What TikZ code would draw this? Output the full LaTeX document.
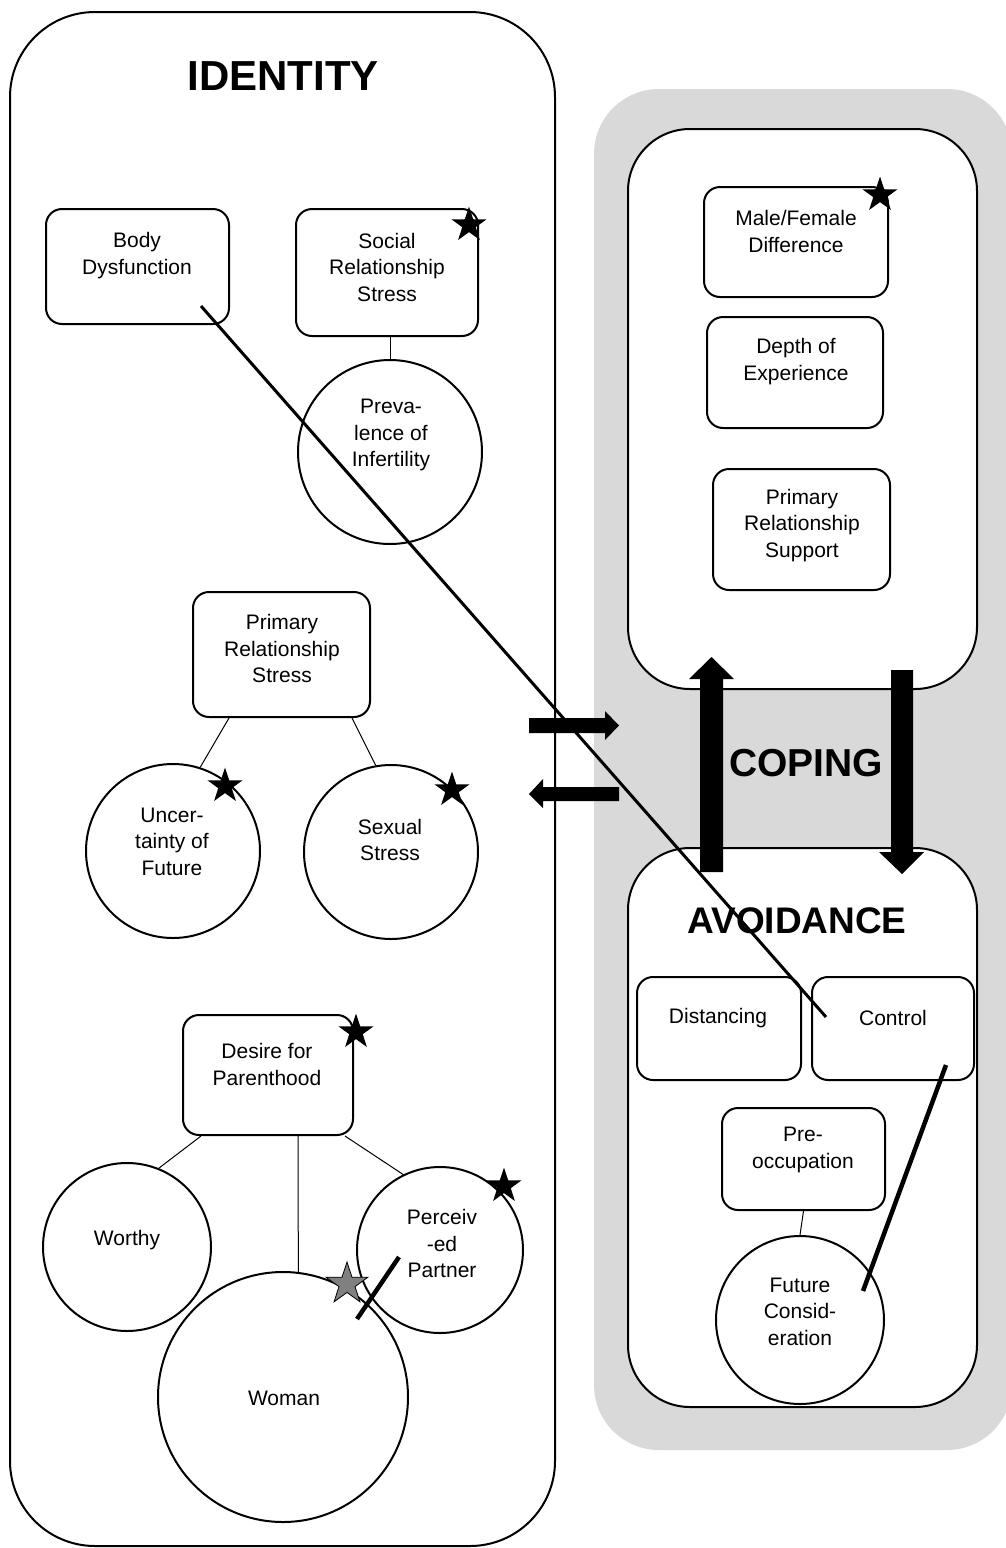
\documentclass[tikz,border=0pt]{standalone}
\usepackage{fontspec}
\setmainfont{Liberation Sans}
\usetikzlibrary{shapes.geometric,calc}
\definecolor{copinggray}{HTML}{D9D9D9}
\definecolor{stargray}{HTML}{808080}
\tikzset{
  frame/.style={draw=black, line width=2pt},
  rbox/.style={draw=black, line width=2pt, rounded corners=16pt, fill=white, rectangle, inner sep=0pt},
  circ/.style={draw=black, line width=2pt, circle, inner sep=0pt},
  txt/.style={font=\fontsize{21}{26.5}\selectfont, align=center, inner sep=0pt},
  title/.style={font=\bfseries\fontsize{#1}{#1}\selectfont, inner sep=0pt},
  link/.style={draw=black, line width=1pt},
  heavy/.style={draw=black, line width=#1},
  blkstar/.style={star, star points=5, star point ratio=2.6, fill=black, draw=none, minimum size=37pt, inner sep=0pt},
  graystar/.style={star, star points=5, star point ratio=2.6, fill=stargray, draw=black, line width=0.8pt, minimum size=44pt, inner sep=0pt},
  blockarrow/.style={fill=black}
}
\begin{document}
\begin{tikzpicture}[x=1pt,y=-1pt]
\useasboundingbox (0,0) rectangle (1006,1548);
\clip (0,0) rectangle (1006,1548);

% backgrounds and frames
\fill[copinggray, rounded corners=65pt] (594,89) rectangle (1012,1450);
\draw[frame, rounded corners=85pt] (10,12) rectangle (555,1546);
\draw[frame, fill=white, rounded corners=62pt] (628,129) rectangle (977,689);
\draw[frame, fill=white, rounded corners=62pt] (628,848) rectangle (977,1407);

% titles
\node[title=42] (identityT) at (283,76) {IDENTITY};
\node[title=39] (copingT) at (806,763) {COPING};
\node[title=37] (avoidT) at (797,921) {AVOIDANCE};

% boxes
\node[rbox, minimum width=183pt, minimum height=115pt] (body) at (137.5,266.5) {};
\node[rbox, minimum width=182pt, minimum height=127pt] (social) at (387,272.5) {};
\node[rbox, minimum width=184pt, minimum height=110pt] (male) at (796,242) {};
\node[rbox, minimum width=176pt, minimum height=111pt] (depth) at (795,372.5) {};
\node[rbox, minimum width=177pt, minimum height=121pt] (support) at (801.5,529.5) {};
\node[rbox, minimum width=177pt, minimum height=125pt] (prstress) at (281.5,654.5) {};
\node[rbox, minimum width=170pt, minimum height=120pt] (desire) at (268,1075) {};
\node[rbox, minimum width=164pt, minimum height=103pt] (distancing) at (719,1028.5) {};
\node[rbox, minimum width=162pt, minimum height=103pt] (control) at (893,1028.5) {};
\node[rbox, minimum width=163pt, minimum height=102pt] (preocc) at (803.5,1159) {};

% circles
\node[circ, minimum size=184pt] (prev) at (390,452) {};
\node[circ, minimum size=174pt] (uncert) at (173,851) {};
\node[circ, minimum size=174pt] (sexual) at (391,852) {};
\node[circ, minimum size=168pt] (worthy) at (127,1247) {};
\node[circ, minimum size=166pt] (perceived) at (440,1250) {};
\node[circ, minimum size=250pt] (woman) at (283,1397) {};
\node[circ, minimum size=168pt] (future) at (800,1320) {};

% texts
\node[txt] (bodyT) at (137,255.5) {Body\\Dysfunction};
\node[txt] (socialT) at (387,267) {Social\\Relationship\\Stress};
\node[txt] (prevT) at (391,435) {Preva-\\lence of\\Infertility};
\node[txt] (maleT) at (796,231.5) {Male/Female\\Difference};
\node[txt] (depthT) at (796,361.5) {Depth of\\Experience};
\node[txt] (supportT) at (802,525.5) {Primary\\Relationship\\Support};
\node[txt] (prstressT) at (282,648.5) {Primary\\Relationship\\Stress};
\node[txt] (uncertT) at (172,841.5) {Uncer-\\tainty of\\Future};
\node[txt] (sexualT) at (390,840) {Sexual\\Stress};
\node[txt] (desireT) at (267,1064.5) {Desire for\\Parenthood};
\node[txt] (worthyT) at (127,1240) {Worthy};
\node[txt] (perceivedT) at (442,1243.5) {Perceiv\\-ed\\Partner};
\node[txt] (womanT) at (284,1398) {Woman};
\node[txt] (distancingT) at (718,1018) {Distancing};
\node[txt] (controlT) at (893,1018) {Control};
\node[txt] (preoccT) at (803,1150) {Pre-\\occupation};
\node[txt] (futureT) at (800,1311.5) {Future\\Consid-\\eration};

% thin connectors
\draw[link] (social.south -| prev.north) -- (prev.north);
\draw[link] ([xshift=37pt]prstress.south west) -- (uncert.72);
\draw[link] ([xshift=-19pt]prstress.south east) -- (sexual.100);
\draw[link] ([xshift=19pt]desire.south west) -- (worthy.68);
\draw[link] ([xshift=30pt]desire.south) -- (woman.83);
\draw[link] ([xshift=-9pt]desire.south east) -- (perceived.116);
\draw[link] (preocc.south) -- (future.north);

% block arrows
\fill[blockarrow] (700,872) -- (700,679) -- (689,679) -- (711.5,657) -- (734,679) -- (723,679) -- (723,872) -- cycle;
\fill[blockarrow] (891,670) -- (913,670) -- (913,852) -- (924,852) -- (902,874) -- (879,852) -- (891,852) -- cycle;
\fill[blockarrow] (529,718) -- (605,718) -- (605,711) -- (619,725.5) -- (605,740) -- (605,733) -- (529,733) -- cycle;
\fill[blockarrow] (619,787) -- (543,787) -- (543,779) -- (529,794) -- (543,808) -- (543,801) -- (619,801) -- cycle;

% heavy lines
\draw[heavy=3pt] ([shift={(63.5,39.5)}]body.center) -- ([shift={(-67,-11.5)}]control.center);
\draw[heavy=4.5pt] ([shift={(53,36.5)}]control.center) -- ([shift={(63,-29)}]future.center);
\draw[heavy=4.5pt] ([shift={(-41,7)}]perceived.center) -- ([shift={(74,-78)}]woman.center);

% stars
\node[blkstar] (st1) at (469,225) {};
\node[blkstar] (st2) at (880,195) {};
\node[blkstar] (st3) at (225,786) {};
\node[blkstar] (st4) at (452,790) {};
\node[blkstar] (st5) at (356,1032) {};
\node[blkstar] (st6) at (504,1186) {};
\node[graystar] (st7) at (347,1284) {};
\end{tikzpicture}
\end{document}
